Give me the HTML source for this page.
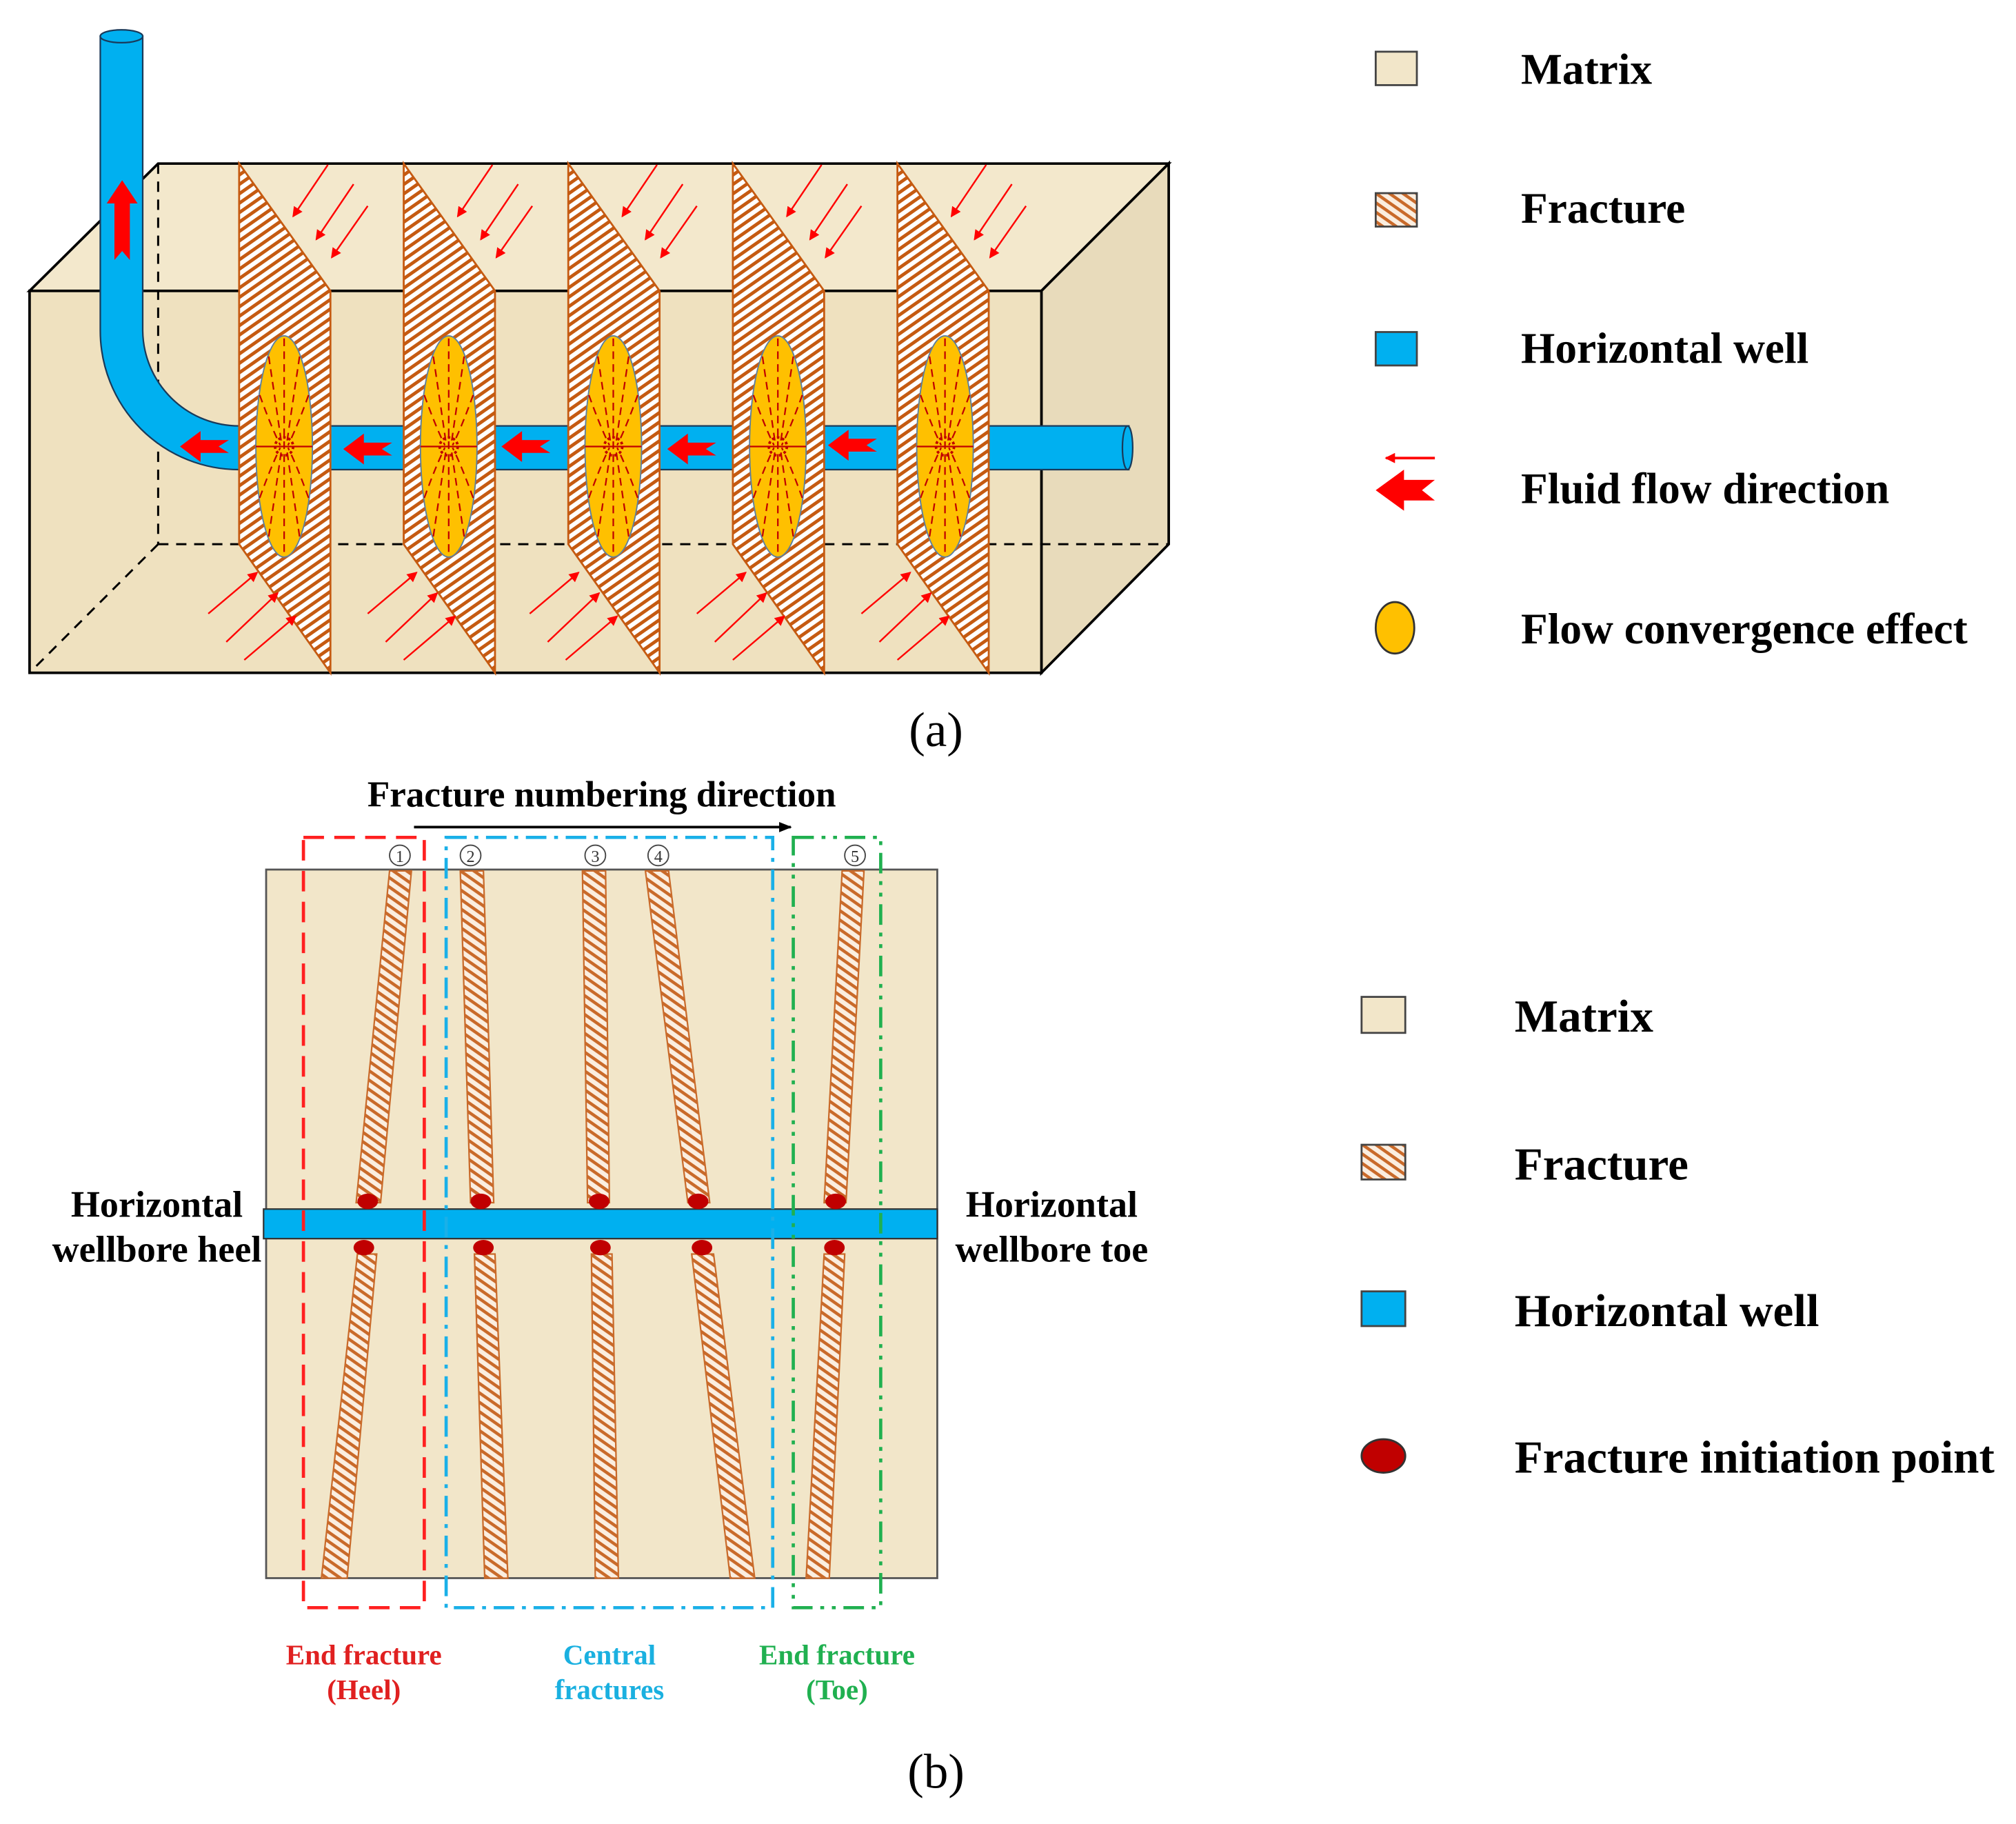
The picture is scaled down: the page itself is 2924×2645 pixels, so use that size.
<!DOCTYPE html>
<html><head><meta charset="utf-8"><style>
html,body{margin:0;padding:0;background:#fff;}
svg{display:block;}
text{font-family:"Liberation Serif",serif;font-weight:bold;}
</style></head><body>
<svg width="2924" height="2645" viewBox="0 0 1568 1418" xmlns="http://www.w3.org/2000/svg">
<defs>
<pattern id="hA" patternUnits="userSpaceOnUse" width="6" height="6" patternTransform="rotate(-35)">
<rect width="6" height="6" fill="#fff"/><rect width="6" height="2.6" fill="#c55a11"/></pattern>
<pattern id="hB" patternUnits="userSpaceOnUse" width="6" height="6" patternTransform="rotate(35)">
<rect width="6" height="6" fill="#fbeee0"/><rect width="6" height="2.4" fill="#c96a2a"/></pattern>
<marker id="ma" markerWidth="8" markerHeight="8" refX="7" refY="4" orient="auto" markerUnits="userSpaceOnUse"><path d="M0,0 L8,4 L0,8 z" fill="#ff0000"/></marker>
<marker id="mk" markerWidth="10" markerHeight="10" refX="9" refY="5" orient="auto" markerUnits="userSpaceOnUse"><path d="M0,1 L10,5 L0,9 z" fill="#000"/></marker>
<g id="frac">
<polygon points="0,0 71,99 71,396 0,296" fill="url(#hA)" stroke="#c55a11" stroke-width="1.5"/>
</g>
<g id="ell">
<ellipse cx="0" cy="0" rx="22" ry="86" fill="#ffc000" stroke="#5b7fa0" stroke-width="1"/>
<g stroke="#c00000" stroke-width="1.2" stroke-dasharray="6,4" fill="none">
<line x1="0" y1="-84" x2="0" y2="84"/>
<line x1="-22" y1="0" x2="22" y2="0" stroke-dasharray="none"/>
<path d="M-12,-70 Q-6,-30 -2,-2"/><path d="M12,-70 Q6,-30 2,-2"/>
<path d="M-12,70 Q-6,30 -2,2"/><path d="M12,70 Q6,30 2,2"/>
<path d="M-19,-40 Q-10,-15 -3,-1"/><path d="M19,-40 Q10,-15 3,-1"/>
<path d="M-19,40 Q-10,15 -3,1"/><path d="M19,40 Q10,15 3,1"/>
</g>
<circle cx="0" cy="0" r="7" fill="none" stroke="#c00000" stroke-width="2" stroke-dasharray="2,2"/>
</g>
<g id="bar"><path d="M0,0 L16,-12 L16,-5 L38,-5 L30,0 L38,5 L16,5 L16,12 z" fill="#ff0000"/></g>
<g id="tarrows" stroke="#ff0000" stroke-width="1.3" marker-end="url(#ma)">
<line x1="55" y1="0" x2="28" y2="40"/><line x1="75" y1="15" x2="46" y2="58"/><line x1="86" y1="32" x2="58" y2="72"/>
</g>
<g id="barrows" stroke="#ff0000" stroke-width="1.3" marker-end="url(#ma)">
<line x1="-24" y1="52" x2="14" y2="20"/><line x1="-10" y1="74" x2="30" y2="36"/><line x1="4" y1="88" x2="44" y2="54"/>
</g>
</defs>

<polygon points="23,226 123,127 909,127 810,226" fill="#f3e8cc" stroke="#000" stroke-width="2"/>
<polygon points="810,226 909,127 909,423 810,523" fill="#e8dbbb" stroke="#000" stroke-width="2"/>
<rect x="23" y="226" width="787" height="297" fill="#efe1bf" stroke="#000" stroke-width="2"/>
<g stroke="#000" stroke-width="1.6" stroke-dasharray="8,6" fill="none">
<line x1="123" y1="127" x2="123" y2="423"/><line x1="123" y1="423" x2="909" y2="423"/><line x1="123" y1="423" x2="23" y2="523"/>
</g>
<path d="M78,28 L78,257 A108,108 0 0 0 186,365 L878,365 L878,331 L186,331 A75,75 0 0 1 111,257 L111,28 z" fill="#00b0f0" stroke="#1a3a5a" stroke-width="1.2"/>
<ellipse cx="94.5" cy="28" rx="16.5" ry="5" fill="#00b0f0" stroke="#1a3a5a" stroke-width="1.2"/>
<ellipse cx="877" cy="348" rx="4" ry="17" fill="#00b0f0" stroke="#1a3a5a" stroke-width="1.2"/>
<use href="#frac" x="186" y="127"/><use href="#frac" x="314" y="127"/><use href="#frac" x="442" y="127"/><use href="#frac" x="570" y="127"/><use href="#frac" x="698" y="127"/>
<use href="#ell" x="221" y="347"/><use href="#ell" x="349" y="347"/><use href="#ell" x="477" y="347"/><use href="#ell" x="605" y="347"/><use href="#ell" x="735" y="347"/>
<use href="#bar" x="140" y="347"/><use href="#bar" x="267" y="349"/><use href="#bar" x="390" y="347"/><use href="#bar" x="519" y="349"/><use href="#bar" x="644" y="346"/>
<path d="M95,140 L107,158 L101,158 L101,202 L95,195 L89,202 L89,158 L83,158 z" fill="#ff0000"/>
<use href="#tarrows" x="200" y="128"/><use href="#tarrows" x="328" y="128"/><use href="#tarrows" x="456" y="128"/><use href="#tarrows" x="584" y="128"/><use href="#tarrows" x="712" y="128"/>
<use href="#barrows" x="186" y="425"/><use href="#barrows" x="310" y="425"/><use href="#barrows" x="436" y="425"/><use href="#barrows" x="566" y="425"/><use href="#barrows" x="694" y="425"/>

<rect x="1070" y="40" width="32" height="26" fill="#f2e6c9" stroke="#444" stroke-width="1.5"/>
<rect x="1070" y="150" width="32" height="26" fill="url(#hB)" stroke="#444" stroke-width="1.5"/>
<rect x="1070" y="258" width="32" height="26" fill="#00b0f0" stroke="#444" stroke-width="1.5"/>
<line x1="1116" y1="356" x2="1078" y2="356" stroke="#ff0000" stroke-width="2" marker-end="url(#ma)"/>
<path d="M1070,381 L1092,365 L1092,373 L1116,373 L1106,381 L1116,389 L1092,389 L1092,397 z" fill="#ff0000"/>
<ellipse cx="1085" cy="488" rx="15" ry="20" fill="#ffc000" stroke="#333" stroke-width="1.5"/>
<g font-size="34" fill="#000">
<text x="1183" y="65">Matrix</text><text x="1183" y="173">Fracture</text><text x="1183" y="282">Horizontal well</text>
<text x="1183" y="391">Fluid flow direction</text><text x="1183" y="500">Flow convergence effect</text>
</g>
<text x="728" y="580" font-size="38" text-anchor="middle" style="font-weight:normal">(a)</text>

<text x="468" y="627" font-size="28.5" text-anchor="middle">Fracture numbering direction</text>
<line x1="322" y1="643" x2="615" y2="643" stroke="#000" stroke-width="2" marker-end="url(#mk)"/>
<rect x="207" y="676" width="522" height="551" fill="#f2e6c9" stroke="#555" stroke-width="1.5"/>
<g fill="url(#hB)" stroke="#c96a2a" stroke-width="1.2">
<polygon points="303,677 320,677 296,935 277,935"/><polygon points="278,975 293,975 270,1227 250,1227"/>
<polygon points="358,677 376,677 384,935 366,935"/><polygon points="369,975 385,975 395,1227 377,1227"/>
<polygon points="453,677 471,677 474,935 457,935"/><polygon points="460,975 476,975 481,1227 463,1227"/>
<polygon points="502,677 520,677 552,935 535,935"/><polygon points="538,975 555,975 587,1227 568,1227"/>
<polygon points="655,677 672,677 658,935 641,935"/><polygon points="641,975 657,975 645,1227 627,1227"/>
</g>
<rect x="205" y="940" width="524" height="23" fill="#00b0f0" stroke="#333" stroke-width="1.2"/>
<g fill="#c00000">
<ellipse cx="286" cy="934" rx="8" ry="6"/><ellipse cx="283" cy="970" rx="8" ry="6"/>
<ellipse cx="374" cy="934" rx="8" ry="6"/><ellipse cx="376" cy="970" rx="8" ry="6"/>
<ellipse cx="466" cy="934" rx="8" ry="6"/><ellipse cx="467" cy="970" rx="8" ry="6"/>
<ellipse cx="543" cy="934" rx="8" ry="6"/><ellipse cx="546" cy="970" rx="8" ry="6"/>
<ellipse cx="650" cy="934" rx="8" ry="6"/><ellipse cx="649" cy="970" rx="8" ry="6"/>
</g>
<rect x="236" y="651" width="94" height="599" fill="none" stroke="#ff2020" stroke-width="2.5" stroke-dasharray="16,8"/>
<rect x="347" y="651" width="254" height="599" fill="none" stroke="#1ab0e8" stroke-width="2.5" stroke-dasharray="16,6,3,6"/>
<rect x="617" y="651" width="68" height="599" fill="none" stroke="#20b050" stroke-width="2.5" stroke-dasharray="16,6,3,6,3,6"/>
<g text-anchor="middle" fill="#444" stroke="#444" stroke-width="1">
<circle cx="311" cy="665" r="8" fill="none"/><circle cx="366" cy="665" r="8" fill="none"/><circle cx="463" cy="665" r="8" fill="none"/><circle cx="512" cy="665" r="8" fill="none"/><circle cx="665" cy="665" r="8" fill="none"/>
</g>
<g font-size="13" text-anchor="middle" fill="#333" style="font-weight:normal">
<text x="311" y="670" style="font-weight:normal">1</text><text x="366" y="670" style="font-weight:normal">2</text><text x="463" y="670" style="font-weight:normal">3</text><text x="512" y="670" style="font-weight:normal">4</text><text x="665" y="670" style="font-weight:normal">5</text>
</g>
<g font-size="29" text-anchor="middle">
<text x="122" y="946">Horizontal</text><text x="122" y="981">wellbore heel</text>
<text x="818" y="946">Horizontal</text><text x="818" y="981">wellbore toe</text>
</g>
<g font-size="22" text-anchor="middle">
<text x="283" y="1294" fill="#e02020">End fracture</text><text x="283" y="1321" fill="#e02020">(Heel)</text>
<text x="474" y="1294" fill="#1ab0e0">Central</text><text x="474" y="1321" fill="#1ab0e0">fractures</text>
<text x="651" y="1294" fill="#20b050">End fracture</text><text x="651" y="1321" fill="#20b050">(Toe)</text>
</g>
<text x="728" y="1390" font-size="38" text-anchor="middle" style="font-weight:normal">(b)</text>

<rect x="1059" y="775" width="34" height="28" fill="#f2e6c9" stroke="#444" stroke-width="1.5"/>
<rect x="1059" y="890" width="34" height="27" fill="url(#hB)" stroke="#444" stroke-width="1.5"/>
<rect x="1059" y="1004" width="34" height="27" fill="#00b0f0" stroke="#444" stroke-width="1.5"/>
<ellipse cx="1076" cy="1132" rx="17" ry="13" fill="#c00000" stroke="#333" stroke-width="1.5"/>
<g font-size="36" fill="#000">
<text x="1178" y="802">Matrix</text><text x="1178" y="917">Fracture</text><text x="1178" y="1031">Horizontal well</text><text x="1178" y="1145">Fracture initiation point</text>
</g>
</svg>
</body></html>
